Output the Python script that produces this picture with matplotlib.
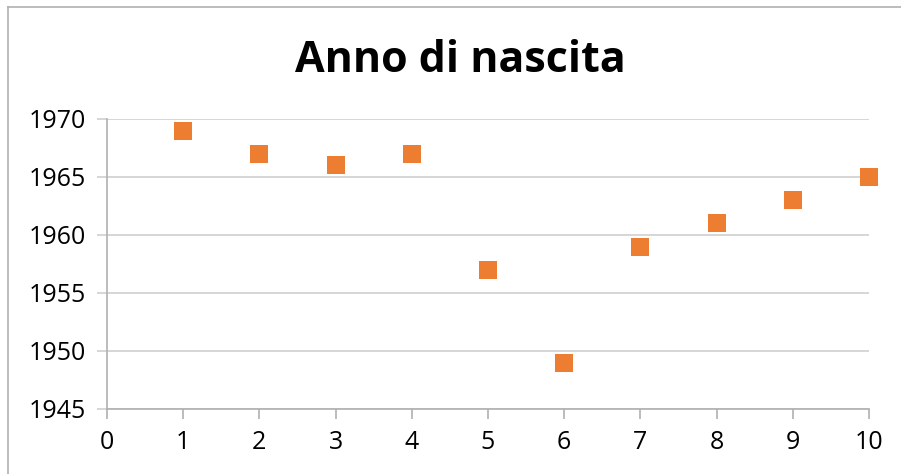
import matplotlib.pyplot as plt
from matplotlib.lines import Line2D

plt.rcParams['font.family'] = ['Open Sans', 'DejaVu Sans']

# data
indice = [1, 2, 3, 4, 5, 6, 7, 8, 9, 10]
anno = [1969, 1967, 1966, 1967, 1957, 1949, 1959, 1961, 1963, 1965]

fig = plt.figure(figsize=(9.01, 4.74), dpi=100)
ax = fig.add_axes([107 / 901, 1 - 409 / 474, (869 - 107) / 901, (409 - 119) / 474])

ax.scatter(indice, anno, marker='s', s=150, color='#ED7D31', zorder=3,
           linewidths=0, clip_on=False)

ax.set_xlim(0, 10)
ax.set_ylim(1945, 1970)
ax.set_xticks(range(0, 11))
ax.set_yticks(range(1945, 1971, 5))
ax.grid(True, axis='y', color='#D0D0D0', linewidth=1.2)
ax.set_axisbelow(True)

for s in ['top', 'right']:
    ax.spines[s].set_visible(False)
ax.spines['left'].set_color('#B0B0B0')
ax.spines['bottom'].set_color('#B0B0B0')
ax.spines['left'].set_linewidth(1.2)
ax.spines['bottom'].set_linewidth(1.2)
ax.tick_params(axis='y', length=7, color='#D0D0D0', width=1.2, labelsize=18, pad=8)
ax.tick_params(axis='x', length=7, color='#B0B0B0', width=1.2, labelsize=18, pad=8)

fig.text(460 / 901, 1 - 60 / 474, "Anno di nascita", ha='center', va='center',
         fontsize=31, fontweight='bold')

# chart border (partially visible in the original crop)
fig.add_artist(Line2D([8 / 901, 8 / 901], [0, 1 - 7 / 474], color='#B0B0B0', linewidth=1.2))
fig.add_artist(Line2D([8 / 901, 1], [1 - 7 / 474, 1 - 7 / 474], color='#B0B0B0', linewidth=1.2))

plt.savefig("out.png", dpi=100)
